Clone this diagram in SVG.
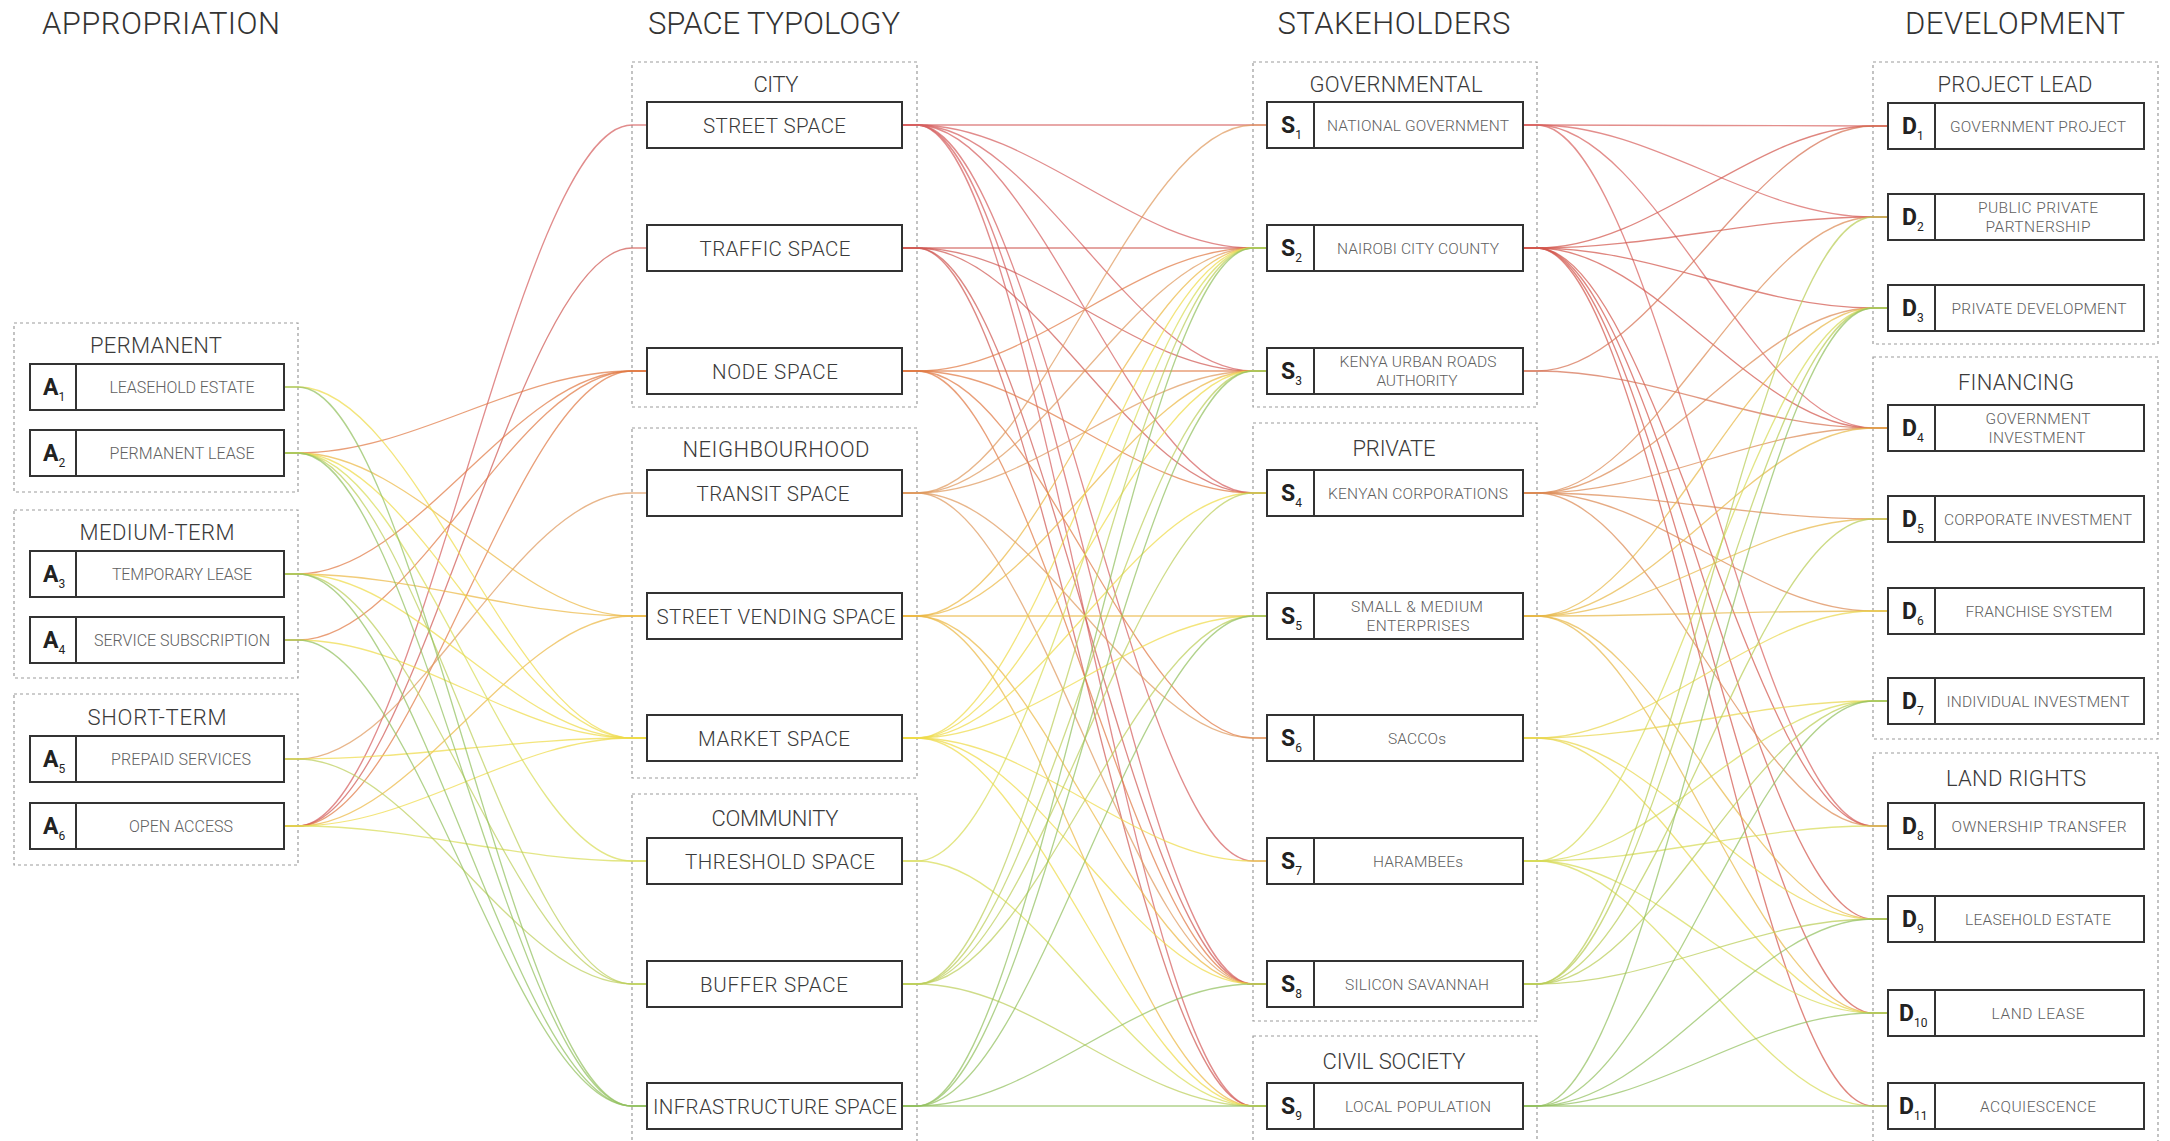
<svg xmlns="http://www.w3.org/2000/svg" width="2170" height="1141" viewBox="0 0 2170 1141">
<style>
text{font-family:Roboto,"Liberation Sans",Arial,sans-serif;text-anchor:middle}
.title{font-size:31px;font-weight:300;fill:#333}
.glab{font-size:22px;font-weight:300;fill:#3a3a3a}
.slab{font-size:20.5px;font-weight:300;fill:#3a3a3a}
.lab{font-size:15.5px;font-weight:300;fill:#606060}
.alab{font-size:16px;font-weight:300;fill:#606060}
.pre{font-size:23px;font-weight:700;fill:#222;text-anchor:start}
.sub{font-size:12px;font-weight:400}
.grp{fill:none;stroke:#9b9b9b;stroke-width:1.2;stroke-dasharray:3 3}
.box{fill:#fff;stroke:#333;stroke-width:2}
.dv{stroke:#333;stroke-width:2}
#links path{fill:none;stroke-width:1.3;stroke-opacity:.72}
.st{stroke:#d6605f}.tr{stroke:#d05a54}.nd{stroke:#e07a45}.ts{stroke:#df9a5e}.sv{stroke:#ebb945}
.mk{stroke:#efdb4a}.th{stroke:#d8dc58}.bf{stroke:#bccf5c}.in{stroke:#93c060}
.k1{stroke:#d8625f}.k2{stroke:#d2574e}.k3{stroke:#d67052}.k4{stroke:#dc8a54}.k5{stroke:#e8b94a}
.k6{stroke:#e9d74d}.k7{stroke:#d7db57}.k8{stroke:#bacd58}.k9{stroke:#93c060}
</style>

<g id="titles">
<text class="title" x="161" y="34" textLength="238">APPROPRIATION</text>
<text class="title" x="774" y="34" textLength="252">SPACE TYPOLOGY</text>
<text class="title" x="1394" y="34" textLength="233">STAKEHOLDERS</text>
<text class="title" x="2015" y="34" textLength="220">DEVELOPMENT</text>
</g>

<g id="groups">
<g id="g-permanent"><rect class="grp" x="14" y="323" width="284" height="169"/><text class="glab" x="156" y="353" textLength="132">PERMANENT</text></g>
<g id="g-medium"><rect class="grp" x="14" y="510" width="284" height="168"/><text class="glab" x="157" y="540" textLength="155">MEDIUM-TERM</text></g>
<g id="g-short"><rect class="grp" x="14" y="694" width="284" height="171"/><text class="glab" x="157" y="725" textLength="139">SHORT-TERM</text></g>
<g id="g-city"><rect class="grp" x="632" y="62" width="285" height="345"/><text class="glab" x="776" y="92" textLength="45">CITY</text></g>
<g id="g-neigh"><rect class="grp" x="632" y="428" width="285" height="350"/><text class="glab" x="776" y="457" textLength="187">NEIGHBOURHOOD</text></g>
<g id="g-comm"><rect class="grp" x="632" y="794" width="285" height="380"/><text class="glab" x="775" y="826" textLength="127">COMMUNITY</text></g>
<g id="g-gov"><rect class="grp" x="1253" y="62" width="284" height="345"/><text class="glab" x="1396" y="92" textLength="173">GOVERNMENTAL</text></g>
<g id="g-priv"><rect class="grp" x="1253" y="423" width="284" height="598"/><text class="glab" x="1394" y="456" textLength="83">PRIVATE</text></g>
<g id="g-civil"><rect class="grp" x="1253" y="1036" width="284" height="140"/><text class="glab" x="1394" y="1069" textLength="143">CIVIL SOCIETY</text></g>
<g id="g-lead"><rect class="grp" x="1873" y="62" width="285" height="282"/><text class="glab" x="2015" y="92" textLength="155">PROJECT LEAD</text></g>
<g id="g-fin"><rect class="grp" x="1873" y="357" width="285" height="382"/><text class="glab" x="2016" y="390" textLength="116">FINANCING</text></g>
<g id="g-land"><rect class="grp" x="1873" y="753" width="285" height="420"/><text class="glab" x="2016" y="786" textLength="140">LAND RIGHTS</text></g>
</g>

<g id="links">
<g class="st">
<path d="M284 826H298C415 826 515 125 632 125H647"/>
<path d="M902 125H917C1035 125 1135 125 1253 125H1267"/>
<path d="M902 125H917C1035 125 1135 248 1253 248H1267"/>
<path d="M902 125H917C1035 125 1135 371 1253 371H1267"/>
<path d="M902 125H917C1035 125 1135 493 1253 493H1267"/>
<path d="M902 125H917C1035 125 1135 861 1253 861H1267"/>
<path d="M902 125H917C1035 125 1135 984 1253 984H1267"/>
<path d="M902 125H917C1035 125 1135 1106 1253 1106H1267"/>
</g>
<g class="tr">
<path d="M284 826H298C415 826 515 248 632 248H647"/>
<path d="M902 248H917C1035 248 1135 248 1253 248H1267"/>
<path d="M902 248H917C1035 248 1135 371 1253 371H1267"/>
<path d="M902 248H917C1035 248 1135 493 1253 493H1267"/>
<path d="M902 248H917C1035 248 1135 984 1253 984H1267"/>
<path d="M902 248H917C1035 248 1135 1106 1253 1106H1267"/>
</g>
<g class="nd">
<path d="M284 453H298C415 453 515 371 632 371H647"/>
<path d="M284 574H298C415 574 515 371 632 371H647"/>
<path d="M284 640H298C415 640 515 371 632 371H647"/>
<path d="M284 826H298C415 826 515 371 632 371H647"/>
<path d="M902 371H917C1035 371 1135 248 1253 248H1267"/>
<path d="M902 371H917C1035 371 1135 371 1253 371H1267"/>
<path d="M902 371H917C1035 371 1135 493 1253 493H1267"/>
<path d="M902 371H917C1035 371 1135 738 1253 738H1267"/>
<path d="M902 371H917C1035 371 1135 984 1253 984H1267"/>
</g>
<g class="ts">
<path d="M284 759H298C415 759 515 493 632 493H647"/>
<path d="M902 493H917C1035 493 1135 125 1253 125H1267"/>
<path d="M902 493H917C1035 493 1135 248 1253 248H1267"/>
<path d="M902 493H917C1035 493 1135 371 1253 371H1267"/>
<path d="M902 493H917C1035 493 1135 738 1253 738H1267"/>
<path d="M902 493H917C1035 493 1135 984 1253 984H1267"/>
</g>
<g class="sv">
<path d="M284 453H298C415 453 515 616 632 616H647"/>
<path d="M284 574H298C415 574 515 616 632 616H647"/>
<path d="M284 826H298C415 826 515 616 632 616H647"/>
<path d="M902 616H917C1035 616 1135 248 1253 248H1267"/>
<path d="M902 616H917C1035 616 1135 371 1253 371H1267"/>
<path d="M902 616H917C1035 616 1135 616 1253 616H1267"/>
<path d="M902 616H917C1035 616 1135 984 1253 984H1267"/>
<path d="M902 616H917C1035 616 1135 1106 1253 1106H1267"/>
</g>
<g class="mk">
<path d="M284 387H298C415 387 515 738 632 738H647"/>
<path d="M284 453H298C415 453 515 738 632 738H647"/>
<path d="M284 574H298C415 574 515 738 632 738H647"/>
<path d="M284 640H298C415 640 515 738 632 738H647"/>
<path d="M284 759H298C415 759 515 738 632 738H647"/>
<path d="M284 826H298C415 826 515 738 632 738H647"/>
<path d="M902 738H917C1035 738 1135 248 1253 248H1267"/>
<path d="M902 738H917C1035 738 1135 371 1253 371H1267"/>
<path d="M902 738H917C1035 738 1135 493 1253 493H1267"/>
<path d="M902 738H917C1035 738 1135 616 1253 616H1267"/>
<path d="M902 738H917C1035 738 1135 861 1253 861H1267"/>
<path d="M902 738H917C1035 738 1135 984 1253 984H1267"/>
<path d="M902 738H917C1035 738 1135 1106 1253 1106H1267"/>
</g>
<g class="th">
<path d="M284 453H298C415 453 515 861 632 861H647"/>
<path d="M284 826H298C415 826 515 861 632 861H647"/>
<path d="M902 861H917C1035 861 1135 248 1253 248H1267"/>
<path d="M902 861H917C1035 861 1135 1106 1253 1106H1267"/>
</g>
<g class="bf">
<path d="M284 453H298C415 453 515 984 632 984H647"/>
<path d="M284 574H298C415 574 515 984 632 984H647"/>
<path d="M284 759H298C415 759 515 984 632 984H647"/>
<path d="M902 984H917C1035 984 1135 248 1253 248H1267"/>
<path d="M902 984H917C1035 984 1135 371 1253 371H1267"/>
<path d="M902 984H917C1035 984 1135 493 1253 493H1267"/>
<path d="M902 984H917C1035 984 1135 616 1253 616H1267"/>
<path d="M902 984H917C1035 984 1135 1106 1253 1106H1267"/>
</g>
<g class="in">
<path d="M284 387H298C415 387 515 1106 632 1106H647"/>
<path d="M284 453H298C415 453 515 1106 632 1106H647"/>
<path d="M284 574H298C415 574 515 1106 632 1106H647"/>
<path d="M284 640H298C415 640 515 1106 632 1106H647"/>
<path d="M902 1106H917C1035 1106 1135 248 1253 248H1267"/>
<path d="M902 1106H917C1035 1106 1135 371 1253 371H1267"/>
<path d="M902 1106H917C1035 1106 1135 616 1253 616H1267"/>
<path d="M902 1106H917C1035 1106 1135 984 1253 984H1267"/>
<path d="M902 1106H917C1035 1106 1135 1106 1253 1106H1267"/>
</g>
<g class="k1">
<path d="M1523 125H1537C1655 125 1755 126 1873 126H1888"/>
<path d="M1523 125H1537C1655 125 1755 217 1873 217H1888"/>
<path d="M1523 125H1537C1655 125 1755 428 1873 428H1888"/>
<path d="M1523 125H1537C1655 125 1755 826 1873 826H1888"/>
</g>
<g class="k2">
<path d="M1523 248H1537C1655 248 1755 126 1873 126H1888"/>
<path d="M1523 248H1537C1655 248 1755 217 1873 217H1888"/>
<path d="M1523 248H1537C1655 248 1755 308 1873 308H1888"/>
<path d="M1523 248H1537C1655 248 1755 428 1873 428H1888"/>
<path d="M1523 248H1537C1655 248 1755 826 1873 826H1888"/>
<path d="M1523 248H1537C1655 248 1755 919 1873 919H1888"/>
<path d="M1523 248H1537C1655 248 1755 1013 1873 1013H1888"/>
<path d="M1523 248H1537C1655 248 1755 1106 1873 1106H1888"/>
</g>
<g class="k3">
<path d="M1523 371H1537C1655 371 1755 126 1873 126H1888"/>
<path d="M1523 371H1537C1655 371 1755 428 1873 428H1888"/>
</g>
<g class="k4">
<path d="M1523 493H1537C1655 493 1755 217 1873 217H1888"/>
<path d="M1523 493H1537C1655 493 1755 308 1873 308H1888"/>
<path d="M1523 493H1537C1655 493 1755 428 1873 428H1888"/>
<path d="M1523 493H1537C1655 493 1755 519 1873 519H1888"/>
<path d="M1523 493H1537C1655 493 1755 611 1873 611H1888"/>
<path d="M1523 493H1537C1655 493 1755 826 1873 826H1888"/>
</g>
<g class="k5">
<path d="M1523 616H1537C1655 616 1755 308 1873 308H1888"/>
<path d="M1523 616H1537C1655 616 1755 428 1873 428H1888"/>
<path d="M1523 616H1537C1655 616 1755 519 1873 519H1888"/>
<path d="M1523 616H1537C1655 616 1755 611 1873 611H1888"/>
<path d="M1523 616H1537C1655 616 1755 919 1873 919H1888"/>
<path d="M1523 616H1537C1655 616 1755 1013 1873 1013H1888"/>
</g>
<g class="k6">
<path d="M1523 738H1537C1655 738 1755 611 1873 611H1888"/>
<path d="M1523 738H1537C1655 738 1755 701 1873 701H1888"/>
<path d="M1523 738H1537C1655 738 1755 919 1873 919H1888"/>
<path d="M1523 738H1537C1655 738 1755 1013 1873 1013H1888"/>
</g>
<g class="k7">
<path d="M1523 861H1537C1655 861 1755 308 1873 308H1888"/>
<path d="M1523 861H1537C1655 861 1755 701 1873 701H1888"/>
<path d="M1523 861H1537C1655 861 1755 826 1873 826H1888"/>
<path d="M1523 861H1537C1655 861 1755 1013 1873 1013H1888"/>
<path d="M1523 861H1537C1655 861 1755 1106 1873 1106H1888"/>
</g>
<g class="k8">
<path d="M1523 984H1537C1655 984 1755 217 1873 217H1888"/>
<path d="M1523 984H1537C1655 984 1755 308 1873 308H1888"/>
<path d="M1523 984H1537C1655 984 1755 519 1873 519H1888"/>
<path d="M1523 984H1537C1655 984 1755 701 1873 701H1888"/>
<path d="M1523 984H1537C1655 984 1755 919 1873 919H1888"/>
</g>
<g class="k9">
<path d="M1523 1106H1537C1655 1106 1755 308 1873 308H1888"/>
<path d="M1523 1106H1537C1655 1106 1755 701 1873 701H1888"/>
<path d="M1523 1106H1537C1655 1106 1755 919 1873 919H1888"/>
<path d="M1523 1106H1537C1655 1106 1755 1013 1873 1013H1888"/>
<path d="M1523 1106H1537C1655 1106 1755 1106 1873 1106H1888"/>
</g>
</g>

<g id="appropriation">
<g id="A1"><rect class="box" x="30" y="364" width="254" height="46"/><line class="dv" x1="76" y1="364" x2="76" y2="410"/><text class="pre" x="43" y="395">A<tspan class="sub" dy="6">1</tspan></text><text class="alab" x="182" y="393" textLength="145">LEASEHOLD ESTATE</text></g>
<g id="A2"><rect class="box" x="30" y="430" width="254" height="46"/><line class="dv" x1="76" y1="430" x2="76" y2="476"/><text class="pre" x="43" y="461">A<tspan class="sub" dy="6">2</tspan></text><text class="alab" x="182" y="459" textLength="145">PERMANENT LEASE</text></g>
<g id="A3"><rect class="box" x="30" y="551" width="254" height="46"/><line class="dv" x1="76" y1="551" x2="76" y2="597"/><text class="pre" x="43" y="582">A<tspan class="sub" dy="6">3</tspan></text><text class="alab" x="182" y="580" textLength="140">TEMPORARY LEASE</text></g>
<g id="A4"><rect class="box" x="30" y="617" width="254" height="46"/><line class="dv" x1="76" y1="617" x2="76" y2="663"/><text class="pre" x="43" y="648">A<tspan class="sub" dy="6">4</tspan></text><text class="alab" x="182" y="646" textLength="176">SERVICE SUBSCRIPTION</text></g>
<g id="A5"><rect class="box" x="30" y="736" width="254" height="46"/><line class="dv" x1="76" y1="736" x2="76" y2="782"/><text class="pre" x="43" y="767">A<tspan class="sub" dy="6">5</tspan></text><text class="alab" x="181" y="765" textLength="140">PREPAID SERVICES</text></g>
<g id="A6"><rect class="box" x="30" y="803" width="254" height="46"/><line class="dv" x1="76" y1="803" x2="76" y2="849"/><text class="pre" x="43" y="834">A<tspan class="sub" dy="6">6</tspan></text><text class="alab" x="181" y="832" textLength="104">OPEN ACCESS</text></g>
</g>

<g id="space">
<g id="street"><rect class="box" x="647" y="102" width="255" height="46"/><text class="slab" x="774.5" y="133" textLength="143">STREET SPACE</text></g>
<g id="traffic"><rect class="box" x="647" y="225" width="255" height="46"/><text class="slab" x="775" y="256" textLength="151">TRAFFIC SPACE</text></g>
<g id="node"><rect class="box" x="647" y="348" width="255" height="46"/><text class="slab" x="775" y="379" textLength="126">NODE SPACE</text></g>
<g id="transit"><rect class="box" x="647" y="470" width="255" height="46"/><text class="slab" x="773" y="501" textLength="153">TRANSIT SPACE</text></g>
<g id="vending"><rect class="box" x="647" y="593" width="255" height="46"/><text class="slab" x="776" y="624" textLength="239">STREET VENDING SPACE</text></g>
<g id="market"><rect class="box" x="647" y="715" width="255" height="46"/><text class="slab" x="774" y="746" textLength="152">MARKET SPACE</text></g>
<g id="threshold"><rect class="box" x="647" y="838" width="255" height="46"/><text class="slab" x="780" y="869" textLength="190">THRESHOLD SPACE</text></g>
<g id="buffer"><rect class="box" x="647" y="961" width="255" height="46"/><text class="slab" x="774" y="992" textLength="148">BUFFER SPACE</text></g>
<g id="infrastructure"><rect class="box" x="647" y="1083" width="255" height="46"/><text class="slab" x="775" y="1114" textLength="244">INFRASTRUCTURE SPACE</text></g>
</g>

<g id="stakeholders">
<g id="S1"><rect class="box" x="1267" y="102" width="256" height="46"/><line class="dv" x1="1314" y1="102" x2="1314" y2="148"/><text class="pre" x="1281" y="133">S<tspan class="sub" dy="6">1</tspan></text><text class="lab" x="1418" y="131" textLength="182">NATIONAL GOVERNMENT</text></g>
<g id="S2"><rect class="box" x="1267" y="225" width="256" height="46"/><line class="dv" x1="1314" y1="225" x2="1314" y2="271"/><text class="pre" x="1281" y="256">S<tspan class="sub" dy="6">2</tspan></text><text class="lab" x="1418" y="254" textLength="162">NAIROBI CITY COUNTY</text></g>
<g id="S3"><rect class="box" x="1267" y="348" width="256" height="46"/><line class="dv" x1="1314" y1="348" x2="1314" y2="394"/><text class="pre" x="1281" y="379">S<tspan class="sub" dy="6">3</tspan></text><text class="lab" x="1418" y="367" textLength="157">KENYA URBAN ROADS</text><text class="lab" x="1417" y="386" textLength="81">AUTHORITY</text></g>
<g id="S4"><rect class="box" x="1267" y="470" width="256" height="46"/><line class="dv" x1="1314" y1="470" x2="1314" y2="516"/><text class="pre" x="1281" y="501">S<tspan class="sub" dy="6">4</tspan></text><text class="lab" x="1418" y="499" textLength="180">KENYAN CORPORATIONS</text></g>
<g id="S5"><rect class="box" x="1267" y="593" width="256" height="46"/><line class="dv" x1="1314" y1="593" x2="1314" y2="639"/><text class="pre" x="1281" y="624">S<tspan class="sub" dy="6">5</tspan></text><text class="lab" x="1417" y="612" textLength="132">SMALL &amp; MEDIUM</text><text class="lab" x="1418" y="631" textLength="103">ENTERPRISES</text></g>
<g id="S6"><rect class="box" x="1267" y="715" width="256" height="46"/><line class="dv" x1="1314" y1="715" x2="1314" y2="761"/><text class="pre" x="1281" y="746">S<tspan class="sub" dy="6">6</tspan></text><text class="lab" x="1417" y="744" textLength="58">SACCOs</text></g>
<g id="S7"><rect class="box" x="1267" y="838" width="256" height="46"/><line class="dv" x1="1314" y1="838" x2="1314" y2="884"/><text class="pre" x="1281" y="869">S<tspan class="sub" dy="6">7</tspan></text><text class="lab" x="1418" y="867" textLength="90">HARAMBEEs</text></g>
<g id="S8"><rect class="box" x="1267" y="961" width="256" height="46"/><line class="dv" x1="1314" y1="961" x2="1314" y2="1007"/><text class="pre" x="1281" y="992">S<tspan class="sub" dy="6">8</tspan></text><text class="lab" x="1417" y="990" textLength="144">SILICON SAVANNAH</text></g>
<g id="S9"><rect class="box" x="1267" y="1083" width="256" height="46"/><line class="dv" x1="1314" y1="1083" x2="1314" y2="1129"/><text class="pre" x="1281" y="1114">S<tspan class="sub" dy="6">9</tspan></text><text class="lab" x="1418" y="1112" textLength="146">LOCAL POPULATION</text></g>
</g>

<g id="development">
<g id="D1"><rect class="box" x="1888" y="103" width="256" height="46"/><line class="dv" x1="1935" y1="103" x2="1935" y2="149"/><text class="pre" x="1902" y="134">D<tspan class="sub" dy="6">1</tspan></text><text class="lab" x="2038" y="132" textLength="176">GOVERNMENT PROJECT</text></g>
<g id="D2"><rect class="box" x="1888" y="194" width="256" height="46"/><line class="dv" x1="1935" y1="194" x2="1935" y2="240"/><text class="pre" x="1902" y="225">D<tspan class="sub" dy="6">2</tspan></text><text class="lab" x="2038" y="213" textLength="120">PUBLIC PRIVATE</text><text class="lab" x="2038" y="232" textLength="105">PARTNERSHIP</text></g>
<g id="D3"><rect class="box" x="1888" y="285" width="256" height="46"/><line class="dv" x1="1935" y1="285" x2="1935" y2="331"/><text class="pre" x="1902" y="316">D<tspan class="sub" dy="6">3</tspan></text><text class="lab" x="2039" y="314" textLength="175">PRIVATE DEVELOPMENT</text></g>
<g id="D4"><rect class="box" x="1888" y="405" width="256" height="46"/><line class="dv" x1="1935" y1="405" x2="1935" y2="451"/><text class="pre" x="1902" y="436">D<tspan class="sub" dy="6">4</tspan></text><text class="lab" x="2038" y="424" textLength="105">GOVERNMENT</text><text class="lab" x="2037" y="443" textLength="97">INVESTMENT</text></g>
<g id="D5"><rect class="box" x="1888" y="496" width="256" height="46"/><line class="dv" x1="1935" y1="496" x2="1935" y2="542"/><text class="pre" x="1902" y="527">D<tspan class="sub" dy="6">5</tspan></text><text class="lab" x="2038" y="525" textLength="188">CORPORATE INVESTMENT</text></g>
<g id="D6"><rect class="box" x="1888" y="588" width="256" height="46"/><line class="dv" x1="1935" y1="588" x2="1935" y2="634"/><text class="pre" x="1902" y="619">D<tspan class="sub" dy="6">6</tspan></text><text class="lab" x="2039" y="617" textLength="147">FRANCHISE SYSTEM</text></g>
<g id="D7"><rect class="box" x="1888" y="678" width="256" height="46"/><line class="dv" x1="1935" y1="678" x2="1935" y2="724"/><text class="pre" x="1902" y="709">D<tspan class="sub" dy="6">7</tspan></text><text class="lab" x="2038" y="707" textLength="183">INDIVIDUAL INVESTMENT</text></g>
<g id="D8"><rect class="box" x="1888" y="803" width="256" height="46"/><line class="dv" x1="1935" y1="803" x2="1935" y2="849"/><text class="pre" x="1902" y="834">D<tspan class="sub" dy="6">8</tspan></text><text class="lab" x="2039" y="832" textLength="175">OWNERSHIP TRANSFER</text></g>
<g id="D9"><rect class="box" x="1888" y="896" width="256" height="46"/><line class="dv" x1="1935" y1="896" x2="1935" y2="942"/><text class="pre" x="1902" y="927">D<tspan class="sub" dy="6">9</tspan></text><text class="lab" x="2038" y="925" textLength="146">LEASEHOLD ESTATE</text></g>
<g id="D10"><rect class="box" x="1888" y="990" width="256" height="46"/><line class="dv" x1="1935" y1="990" x2="1935" y2="1036"/><text class="pre" x="1899" y="1021">D<tspan class="sub" dy="6">10</tspan></text><text class="lab" x="2038" y="1019" textLength="93">LAND LEASE</text></g>
<g id="D11"><rect class="box" x="1888" y="1083" width="256" height="46"/><line class="dv" x1="1935" y1="1083" x2="1935" y2="1129"/><text class="pre" x="1899" y="1114">D<tspan class="sub" dy="6">11</tspan></text><text class="lab" x="2038" y="1112" textLength="116">ACQUIESCENCE</text></g>
</g>
</svg>
